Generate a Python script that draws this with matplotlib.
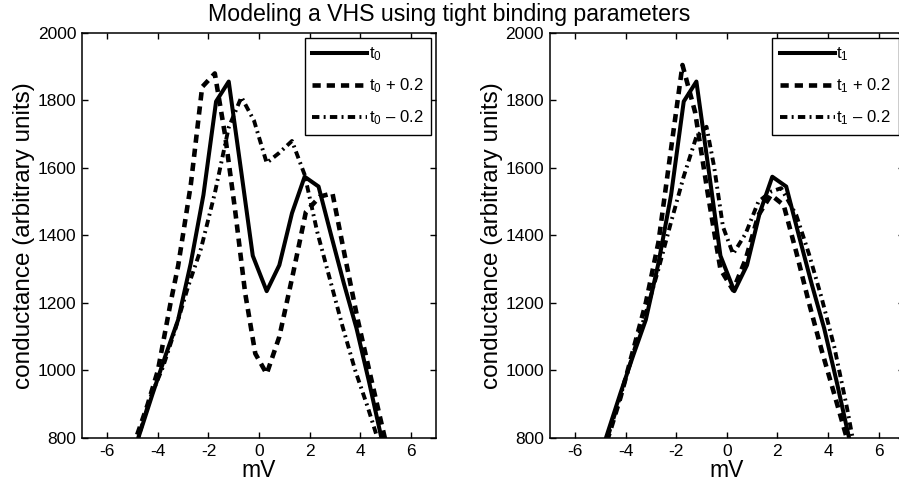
import matplotlib
matplotlib.use("Agg")
import matplotlib.pyplot as plt

plt.rcParams["font.family"] = ["Liberation Sans", "DejaVu Sans"]
plt.rcParams["mathtext.fontset"] = "custom"
plt.rcParams["mathtext.rm"] = "Liberation Sans"
plt.rcParams["mathtext.it"] = "Liberation Sans"
plt.rcParams["axes.unicode_minus"] = False

# bias (mV) and conductance for the unperturbed band
mv_base = [-5.0, -4.2, -3.7, -3.2, -2.7, -2.2, -1.7, -1.2, -0.7, -0.25, 0.3, 0.8,
           1.3, 1.8, 2.35, 2.85, 3.35, 3.85, 4.35, 4.85]
g_base = [748, 933, 1044, 1150, 1318, 1520, 1797, 1856, 1586, 1340, 1235, 1312,
          1466, 1574, 1545, 1400, 1258, 1125, 965, 795]

# t0 shifted by +/- 0.2
mv_t0_plus = [-5.0, -4.4, -4.0, -3.5, -3.2, -2.7, -2.25, -1.75, -1.35, -0.95, -0.55,
              -0.15, 0.3, 0.8, 1.35, 1.85, 2.4, 2.9, 3.4, 3.9, 4.4, 5.0]
g_t0_plus = [770, 900, 1000, 1200, 1310, 1550, 1840, 1880, 1700, 1476, 1229,
             1050, 990, 1100, 1290, 1470, 1515, 1525, 1335, 1150, 985, 790]
mv_t0_minus = [-4.9, -4.3, -3.8, -3.3, -2.8, -2.3, -1.75, -1.2, -0.7, -0.2, 0.3, 0.8,
               1.3, 1.8, 2.3, 2.8, 3.3, 3.8, 4.3, 4.8]
g_t0_minus = [770, 920, 1010, 1125, 1250, 1360, 1525, 1720, 1810, 1740, 1615, 1645,
              1680, 1580, 1410, 1270, 1130, 1000, 890, 770]

# t1 shifted by +/- 0.2
mv_t1_plus = [-4.9, -4.2, -3.7, -3.2, -2.7, -2.25, -1.75, -1.25, -0.75, -0.25, 0.25,
              0.75, 1.25, 1.75, 2.25, 2.75, 3.25, 3.75, 4.25, 4.8]
g_t1_plus = [750, 920, 1060, 1200, 1380, 1630, 1905, 1765, 1524, 1300, 1238,
             1330, 1460, 1520, 1490, 1350, 1200, 1060, 930, 785]
mv_t1_minus = [-4.9, -4.2, -3.7, -3.2, -2.7, -2.2, -1.7, -1.2, -0.8, -0.5, -0.15, 0.25,
               0.75, 1.25, 1.75, 2.15, 2.75, 3.25, 3.75, 4.25, 4.75, 5.05]
g_t1_minus = [755, 925, 1050, 1170, 1300, 1440, 1575, 1693, 1722, 1604, 1426, 1345,
              1406, 1500, 1530, 1540, 1460, 1345, 1215, 1070, 890, 770]

x_ticks = [-6, -4, -2, 0, 2, 4, 6]
y_ticks = [800, 1000, 1200, 1400, 1600, 1800, 2000]

DASHED = (0, (1.8, 1.3))
DASHDOT = (0, (1.9, 1.1, 0.5, 1.1))


def draw_panel(ax, curves, idx):
    name = f"t$_{idx}$"
    ax.plot(curves[0][0], curves[0][1], color="black", lw=2.9, ls="-",
            label=name)
    ax.plot(curves[1][0], curves[1][1], color="black", lw=3.3, ls=DASHED,
            label=name + " + 0.2")
    ax.plot(curves[2][0], curves[2][1], color="black", lw=2.8, ls=DASHDOT,
            label=name + " \u2013 0.2")
    ax.set_xlim(-7, 7)
    ax.set_ylim(800, 2000)
    ax.set_xticks(x_ticks)
    ax.set_yticks(y_ticks)
    ax.tick_params(direction="in", top=True, right=True, length=4, width=1,
                   labelsize=12.5, pad=4)
    for sp in ax.spines.values():
        sp.set_linewidth(1.1)
    ax.set_xlabel("mV", fontsize=16.5, labelpad=0)
    ax.set_ylabel("conductance (arbitrary units)", fontsize=17.5, labelpad=2)
    leg = ax.legend(loc="upper right", fontsize=12, handlelength=3.3,
                    handletextpad=0.1, labelspacing=0.8, borderpad=0.45,
                    borderaxespad=0.3, fancybox=False, framealpha=1)
    leg.get_frame().set_edgecolor("black")
    leg.get_frame().set_linewidth(1.0)


fig = plt.figure(figsize=(8.99, 4.88), dpi=100)
ax_l = fig.add_axes([0.0912, 0.1025, 0.394, 0.830])
ax_r = fig.add_axes([0.6114, 0.1025, 0.394, 0.830])

draw_panel(ax_l, [(mv_base, g_base), (mv_t0_plus, g_t0_plus),
                  (mv_t0_minus, g_t0_minus)], 0)
draw_panel(ax_r, [(mv_base, g_base), (mv_t1_plus, g_t1_plus),
                  (mv_t1_minus, g_t1_minus)], 1)

fig.text(0.5, 0.971, "Modeling a VHS using tight binding parameters",
         ha="center", va="center", fontsize=16.7)

fig.savefig("out.png", dpi=100)
plt.close(fig)
